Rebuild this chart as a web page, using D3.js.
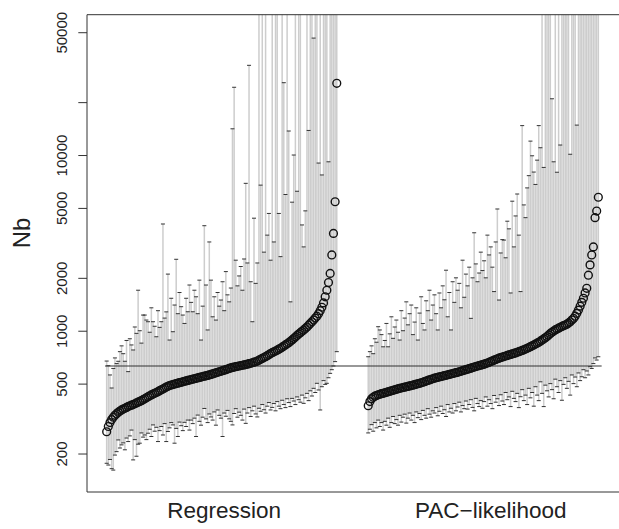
<!DOCTYPE html>
<html>
<head>
<meta charset="utf-8">
<script src="https://cdn.jsdelivr.net/npm/d3@7"></script>
<style>
  body { margin: 0; background: #fff; }
  svg { display: block; font-family: "Liberation Sans", Arial, Helvetica, sans-serif; }
</style>
</head>
<body>
<svg id="mount" width="619" height="529"></svg>
<script>
var T = 1e6; // upper limit that runs off the top of the plot

var groupNames = ["Regression", "PAC\u2212likelihood"];
var yTicks = [200, 500, 1000, 2000, 5000, 10000, 20000, 50000];
var yTickLabels = ["200", "500", "1000", "2000", "5000", "10000", "", "50000"];
var refLine = 630;

// Regression: point estimates (sorted) with lower / upper limits
var regEst = [
  266, 285, 300, 312, 322, 330, 337, 343, 349, 354,
  358, 362, 366, 370, 374, 377, 380, 384, 388, 392,
  396, 400, 405, 410, 415, 421, 426, 431, 436, 440,
  445, 450, 456, 461, 466, 472, 478, 483, 487, 491,
  494, 497, 500, 503, 506, 509, 512, 515, 518, 521,
  524, 527, 530, 533, 536, 539, 542, 545, 548, 551,
  554, 557, 560, 564, 568, 572, 576, 580, 584, 588,
  592, 596, 600, 605, 610, 614, 618, 621, 624, 627,
  630, 633, 636, 639, 642, 645, 649, 653, 657, 662,
  666, 672, 680, 688, 696, 704, 712, 721, 731, 741,
  750, 758, 766, 775, 785, 795, 806, 818, 830, 842,
  855, 870, 886, 902, 920, 940, 958, 975, 992, 1010,
  1030, 1050, 1075, 1100, 1125, 1150, 1180, 1210, 1250, 1300,
  1360, 1440, 1560, 1700, 1880, 2120, 2700, 3580, 5420, 25600
];
var regLo = [
  176, 172, 185, 164, 161, 196, 205, 239, 215, 224,
  230, 210, 245, 234, 252, 272, 184, 240, 193, 226,
  229, 262, 248, 255, 240, 261, 275, 250, 291, 268,
  282, 234, 270, 285, 255, 296, 234, 267, 280, 300,
  291, 229, 278, 250, 302, 288, 270, 301, 285, 310,
  272, 310, 296, 318, 250, 331, 305, 290, 322, 361,
  315, 300, 336, 323, 310, 345, 290, 354, 330, 318,
  250, 340, 326, 352, 315, 305, 291, 338, 360, 322,
  344, 330, 310, 358, 297, 340, 365, 325, 350, 372,
  336, 323, 362, 348, 380, 355, 340, 372, 390, 354,
  366, 385, 350, 395, 372, 360, 402, 380, 365, 410,
  390, 370, 412, 398, 380, 420, 405, 392, 430, 386,
  415, 440, 400, 455, 425, 470, 445, 502, 460, 354,
  480, 520, 495, 502, 540, 572, 600, 630, 667, 760
];
var regHi = [
  672, 632, 560, 472, 610, 700, 650, 670, 760, 820,
  740, 670, 880, 585, 900, 830, 777, 1050, 966, 1700,
  1000, 850, 1228, 1228, 1150, 1125, 980, 1350, 1125, 1060,
  924, 1300, 1045, 1125, 4050, 1180, 1280, 2100, 885, 1530,
  987, 1400, 2550, 1250, 1650, 1370, 1228, 1100, 1530, 1282,
  1820, 1450, 1282, 1700, 1560, 1250, 1940, 885, 1380, 3960,
  1820, 1010, 3200, 1940, 1200, 1560, 1150, 1650, 1380, 1495,
  1900, 1300, 2170, 1600, 1460, 1750, 14100, 24300, 2520, 1800,
  2050, 2320, 1700, 2560, 6900, 2430, 32400, 1900, 1125, 4370,
  1860, 2430, T, 6740, T, 2800, T, 3500, 4650, 2520,
  T, 3200, T, T, 4650, 2640, T, 25800, 5960, T,
  13700, 1460, 5390, 10000, T, 6220, T, T, 4000, 3000,
  4810, T, 13800, T, T, 46300, T, T, 9000, T,
  7700, T, T, T, 9150, T, T, T, T, T
];

// PAC-likelihood: point estimates (sorted) with lower / upper limits
var pacEst = [
  374, 395, 410, 418, 424, 428, 432, 435, 438, 440,
  443, 446, 449, 452, 455, 458, 461, 464, 467, 470,
  472, 475, 477, 480, 482, 485, 487, 490, 493, 496,
  499, 502, 505, 509, 513, 517, 521, 525, 529, 533,
  537, 540, 543, 546, 549, 552, 555, 558, 561, 564,
  567, 571, 574, 577, 580, 584, 588, 592, 596, 600,
  604, 608, 612, 617, 621, 625, 629, 633, 637, 641,
  645, 650, 655, 661, 667, 673, 680, 686, 692, 698,
  703, 708, 713, 718, 723, 728, 733, 738, 743, 748,
  754, 760, 766, 772, 779, 786, 794, 802, 811, 820,
  829, 839, 849, 860, 872, 885, 898, 912, 926, 945,
  965, 980, 995, 1010, 1022, 1034, 1046, 1058, 1068, 1078,
  1090, 1105, 1125, 1150, 1175, 1210, 1256, 1310, 1380, 1450,
  1530, 1640, 1743, 2070, 2370, 2700, 3000, 4400, 4800, 5750
];
var pacLo = [
  262, 275, 292, 268, 300, 280, 310, 285, 300, 272,
  305, 290, 318, 282, 300, 325, 296, 312, 290, 330,
  302, 322, 335, 298, 318, 340, 310, 330, 300, 345,
  320, 338, 312, 352, 330, 318, 360, 335, 322, 350,
  340, 365, 328, 348, 372, 338, 355, 325, 380, 345,
  362, 340, 385, 350, 368, 392, 345, 375, 360, 398,
  358, 380, 405, 366, 350, 412, 385, 370, 400, 362,
  395, 420, 372, 405, 385, 360, 428, 392, 410, 375,
  432, 398, 380, 445, 405, 420, 370, 452, 412, 395,
  440, 365, 421, 462, 400, 430, 380, 470, 415, 445,
  372, 480, 430, 400, 512, 440, 370, 490, 455, 420,
  500, 462, 410, 530, 480, 445, 520, 402, 495, 540,
  470, 515, 430, 560, 500, 545, 480, 575, 520, 547,
  600, 540, 590, 560, 624, 610, 650, 700, 681, 711
];
var pacHi = [
  711, 760, 820, 740, 900, 860, 1054, 1010, 950, 810,
  880, 1100, 810, 960, 1200, 905, 1050, 1150, 980, 885,
  1300, 1000, 1180, 1460, 1080, 1250, 1400, 950, 1120, 1350,
  885, 1260, 1560, 1100, 1010, 1480, 1300, 1700, 1150, 1400,
  1600, 1250, 1010, 1640, 1350, 1800, 1500, 2210, 1200, 1650,
  1010, 1900, 1450, 2000, 1700, 1860, 1350, 2520, 1550, 2100,
  1800, 2300, 1176, 2000, 3610, 2400, 1900, 2130, 2800, 2200,
  2500, 2000, 3500, 2700, 3000, 2300, 1670, 3200, 4930, 1495,
  2770, 3300, 3280, 2600, 4200, 3800, 1640, 5460, 3000, 4500,
  6000, 3500, 1670, 14700, 5200, 4400, 6500, 7630, 12000, 9900,
  8000, 6800, 9350, 14700, 11000, T, 8500, T, T, T,
  T, 20900, 9150, T, 7980, T, 11400, T, T, T,
  T, T, 10100, T, T, T, 14800, T, T, T,
  T, T, T, T, T, T, T, T, T, T
];

// layout: index position of the first point of each group and of its label
var groupStart = [1, 159];
var labelAt = [72, 233];

var svg = d3.select("#mount");
var plotLeft = 87, plotRight = 618, plotTop = 14.7, plotBottom = 492;

var x = d3.scaleLinear().domain([-10.88, 309.88]).range([plotLeft, plotRight]);
var y = d3.scaleLog().domain([120.8, 62900]).range([plotBottom, plotTop]);

svg.append("defs")
  .append("clipPath")
  .attr("id", "plotClip")
  .append("rect")
  .attr("x", plotLeft)
  .attr("y", plotTop)
  .attr("width", 619 - plotLeft)
  .attr("height", plotBottom - plotTop);

function makeRows(est, lo, hi, start) {
  return est.map(function(e, i) {
    return { pos: start + i, est: e, lo: lo[i], hi: hi[i] };
  });
}

var rows = makeRows(regEst, regLo, regHi, groupStart[0])
  .concat(makeRows(pacEst, pacLo, pacHi, groupStart[1]));

var plot = svg.append("g").attr("clip-path", "url(#plotClip)");

// error bars
plot.append("g")
  .selectAll("line")
  .data(rows)
  .join("line")
  .attr("x1", function(d) { return x(d.pos); })
  .attr("x2", function(d) { return x(d.pos); })
  .attr("y1", function(d) { return y(d.lo); })
  .attr("y2", function(d) { return y(d.hi); })
  .attr("stroke", "#cdcdcd")
  .attr("stroke-width", 1.5);

// end caps
var caps = [];
rows.forEach(function(d) {
  caps.push({ pos: d.pos, v: d.lo });
  caps.push({ pos: d.pos, v: d.hi });
});
plot.append("g")
  .selectAll("line")
  .data(caps)
  .join("line")
  .attr("x1", function(d) { return x(d.pos) - 2; })
  .attr("x2", function(d) { return x(d.pos) + 2; })
  .attr("y1", function(d) { return y(d.v); })
  .attr("y2", function(d) { return y(d.v); })
  .attr("stroke", "#333")
  .attr("stroke-width", 1);

// reference line
var lastPos = groupStart[1] + pacEst.length - 1;
plot.append("line")
  .attr("x1", x(groupStart[0] - 1))
  .attr("x2", x(lastPos + 2))
  .attr("y1", y(refLine))
  .attr("y2", y(refLine))
  .attr("stroke", "#333")
  .attr("stroke-width", 1.2);

// point estimates
plot.append("g")
  .selectAll("circle")
  .data(rows)
  .join("circle")
  .attr("cx", function(d) { return x(d.pos); })
  .attr("cy", function(d) { return y(d.est); })
  .attr("r", 3.9)
  .attr("fill", "none")
  .attr("stroke", "#111")
  .attr("stroke-width", 1.4);

// box (right side falls outside the picture)
svg.append("path")
  .attr("d", "M619," + plotTop + "H" + plotLeft + "V" + plotBottom + "H619")
  .attr("fill", "none")
  .attr("stroke", "#333")
  .attr("stroke-width", 1);

// y axis
var yAxis = svg.append("g")
  .attr("transform", "translate(" + plotLeft + ",0)")
  .call(d3.axisLeft(y)
    .tickValues(yTicks)
    .tickSize(8.7)
    .tickFormat(function(d, i) { return yTickLabels[i]; }));
yAxis.select(".domain").remove();
yAxis.selectAll(".tick line").attr("stroke", "#333");
yAxis.selectAll(".tick text")
  .attr("transform", "rotate(-90)")
  .attr("x", 0)
  .attr("y", -20)
  .attr("dy", 0)
  .attr("fill", "#222")
  .style("text-anchor", "middle")
  .style("font-size", "15px")
  .style("font-family", "'Liberation Sans', Arial, sans-serif");

svg.append("text")
  .attr("transform", "translate(30,233) rotate(-90)")
  .attr("text-anchor", "middle")
  .attr("fill", "#222")
  .style("font-size", "24px")
  .text("Nb");

// group labels
svg.append("g")
  .selectAll("text")
  .data(groupNames)
  .join("text")
  .attr("x", function(d, i) { return x(labelAt[i]); })
  .attr("y", 518)
  .attr("text-anchor", "middle")
  .attr("fill", "#222")
  .style("font-size", "22.5px")
  .text(function(d) { return d; });
</script>
</body>
</html>
